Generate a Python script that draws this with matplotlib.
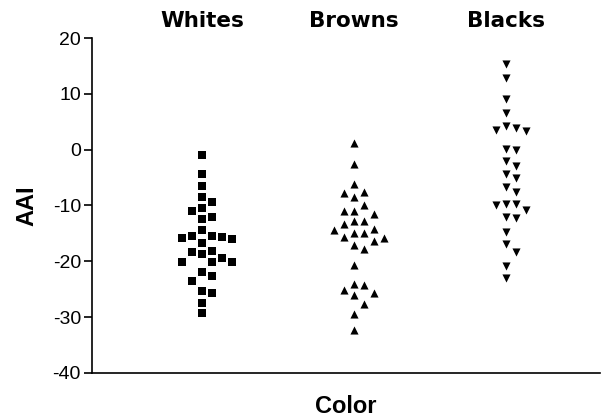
import matplotlib
matplotlib.use('Agg')
import matplotlib.pyplot as plt
import numpy as np

plt.rcParams['axes.unicode_minus'] = False

groups = ['Whites', 'Browns', 'Blacks']
markers = ['s', '^', 'v']

whites = [-1.0, -4.4, -6.5, -8.5, -9.4, -10.4, -11.0, -12.1, -12.4, -14.3,
          -15.5, -15.6, -15.5, -16.0, -15.8, -16.8, -18.2, -18.6, -18.4, -19.4,
          -20.1, -20.1, -20.1, -22.0, -22.6, -23.5, -25.4, -25.7, -27.4, -29.3]
browns = [1.2, -2.5, -6.1, -7.8, -7.6, -8.5, -10.0, -10.9, -11.0, -11.6,
          -12.7, -12.7, -13.3, -14.2, -14.3, -15.0, -15.0, -15.7, -15.8, -16.3,
          -17.0, -17.8, -20.6, -24.1, -24.2, -25.2, -25.6, -26.0, -27.6, -29.4,
          -32.3]
blacks = [15.4, 12.8, 9.0, 6.6, 3.9, 3.3, 3.6, 4.3, 0.2, 0.0,
          -2.1, -2.9, -4.3, -5.0, -6.6, -7.6, -9.7, -10.8, -10.0, -9.7,
          -12.2, -12.0, -14.8, -16.9, -18.4, -20.9, -23.0]
values = [whites, browns, blacks]


def swarm(vals, gap=1.75, step=0.066):
    # simple dot-plot layout: try centre, then right/left slots
    order = np.argsort(vals)[::-1]
    placed = []
    xs = np.zeros(len(vals))
    for i in order:
        v = vals[i]
        for k in [0, 1, -1, 2, -2, 3, -3, 4, -4]:
            if all(not (s == k and abs(v - pv) < gap) for s, pv in placed):
                placed.append((k, v))
                xs[i] = k * step
                break
    return xs


fig = plt.figure(figsize=(6.03, 4.19), dpi=100)
ax = fig.add_axes([0.1526, 0.1098, 0.8424, 0.7995])

for i, (vals, m) in enumerate(zip(values, markers)):
    xs = i + swarm(vals)
    ax.scatter(xs, vals, marker=m, s=32 if m == 's' else 34, color='black',
               linewidths=0, zorder=3)

ax.set_ylim(-40, 20)
ax.set_xlim(-0.724, 2.62)
ax.set_yticks([20, 10, 0, -10, -20, -30, -40])
ax.tick_params(axis='y', labelsize=14, length=6, width=1.2, pad=2,
               labelfontfamily='Liberation Sans')
ax.spines['top'].set_visible(False)
ax.spines['right'].set_visible(False)
for s in ['left', 'bottom']:
    ax.spines[s].set_linewidth(1.2)

ax.xaxis.tick_top()
ax.set_xticks(range(len(groups)))
ax.set_xticklabels(groups, fontfamily='DejaVu Sans', fontweight='bold', fontsize=15.5)
ax.tick_params(axis='x', length=0, pad=5)

ax.set_xlabel('Color', fontfamily='Liberation Sans', fontweight='bold', fontsize=17)
ax.xaxis.set_label_position('bottom')
ax.xaxis.labelpad = 16
ax.set_ylabel('AAI', fontfamily='Liberation Sans', fontweight='bold', fontsize=17)
ax.yaxis.labelpad = 10

fig.savefig('out.png', dpi=100)
